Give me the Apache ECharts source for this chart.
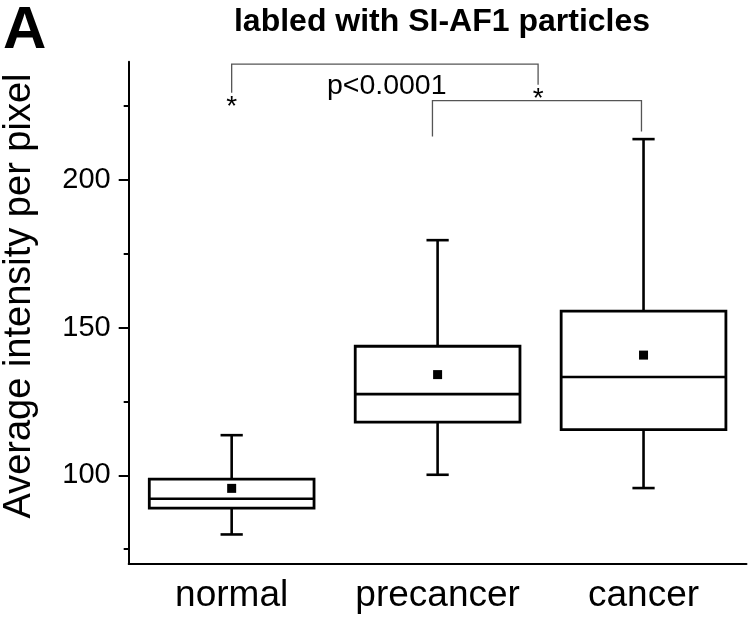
<!DOCTYPE html>
<html>
<head>
<meta charset="utf-8">
<script src="https://cdn.jsdelivr.net/npm/echarts@6/dist/echarts.min.js"></script>
<style>html,body{margin:0;padding:0;background:#fff;}#c{width:750px;height:619px;}</style>
</head>
<body>
<div id="c"></div>
<script>
const categories = ['normal', 'precancer', 'cancer'];
const whiskerLow = [80.0, 100.2, 95.7];
const q1 = [88.9, 118.0, 115.5];
const median = [92.1, 127.5, 133.3];
const q3 = [98.7, 143.7, 155.6];
const whiskerHigh = [113.6, 179.6, 213.8];
const means = [95.6, 134.1, 140.7];
const yMajorTicks = [100, 150, 200];
const yMinorTicks = [75, 125, 175, 225];
// brackets: [leftPos, rightPos, topValue, leftEndValue, rightEndValue]
const bracketLeft = [0, 0.975];
const bracketRight = [1.488, 1.99];
const bracketTop = [239.2, 226.8];
const bracketLeftEnd = [229.5, 214.7];
const bracketRightEnd = [232.2, 216.4];
// annotations
const noteTexts = ['*', '*', 'p<0.0001'];
const notePos = [0, 1.488, 0.753];
const noteValue = [226.6, 229.3, 231.6];

const FONT = 'Liberation Sans, Arial, sans-serif';
const chart = echarts.init(document.getElementById('c'), null, {renderer: 'canvas'});

function renderBox(params, api) {
  const i = api.value(0);
  const band = api.size([1, 0])[0];
  const half = band * 0.4;
  const cap = band * 0.054;
  const x = api.coord([i, 0])[0];
  const yLow = api.coord([i, api.value(1)])[1];
  const yQ1 = api.coord([i, api.value(2)])[1];
  const yMed = api.coord([i, api.value(3)])[1];
  const yQ3 = api.coord([i, api.value(4)])[1];
  const yHigh = api.coord([i, api.value(5)])[1];
  const yMean = api.coord([i, api.value(6)])[1];
  const ls = {stroke: '#000', lineWidth: 2.6, fill: null};
  return {
    type: 'group',
    children: [
      {type: 'line', shape: {x1: x, y1: yQ3, x2: x, y2: yHigh}, style: ls},
      {type: 'line', shape: {x1: x, y1: yQ1, x2: x, y2: yLow}, style: ls},
      {type: 'line', shape: {x1: x - cap, y1: yHigh, x2: x + cap, y2: yHigh}, style: ls},
      {type: 'line', shape: {x1: x - cap, y1: yLow, x2: x + cap, y2: yLow}, style: ls},
      {type: 'rect', shape: {x: x - half, y: yQ3, width: 2 * half, height: yQ1 - yQ3}, style: {stroke: '#000', lineWidth: 2.8, fill: '#fff'}},
      {type: 'line', shape: {x1: x - half, y1: yMed, x2: x + half, y2: yMed}, style: ls},
      {type: 'rect', shape: {x: x - 4.5, y: yMean - 4.5, width: 9, height: 9}, style: {fill: '#000'}}
    ]
  };
}

function renderBracket(params, api) {
  const k = params.dataIndex;
  const band = api.size([1, 0])[0];
  const x0 = api.coord([0, 100])[0];
  const xl = x0 + bracketLeft[k] * band;
  const xr = x0 + bracketRight[k] * band;
  const yt = api.coord([0, bracketTop[k]])[1];
  const yl = api.coord([0, bracketLeftEnd[k]])[1];
  const yr = api.coord([0, bracketRightEnd[k]])[1];
  return {
    type: 'polyline',
    shape: {points: [[xl, yl], [xl, yt], [xr, yt], [xr, yr]]},
    style: {stroke: '#555', lineWidth: 1.3, fill: null}
  };
}

function renderNote(params, api) {
  const k = params.dataIndex;
  const band = api.size([1, 0])[0];
  const x0 = api.coord([0, 100])[0];
  const x = x0 + notePos[k] * band;
  const y = api.coord([0, noteValue[k]])[1];
  const isStar = noteTexts[k] === '*';
  return {
    type: 'text',
    x: x,
    y: isStar ? y + 6 : y,
    style: {
      text: noteTexts[k],
      fill: '#000',
      font: (isStar ? '28px ' : '28.5px ') + FONT,
      textAlign: 'center',
      textVerticalAlign: 'middle'
    }
  };
}

const yBase = {
  type: 'value', min: 70, max: 240, position: 'left',
  splitLine: {show: false}
};

chart.setOption({
  animation: false,
  backgroundColor: '#fff',
  grid: {left: 128.7, right: 3.5, top: 61.7, bottom: 55, containLabel: false},
  xAxis: {
    type: 'category', data: categories, boundaryGap: true,
    axisLine: {lineStyle: {color: '#000', width: 2}},
    axisTick: {alignWithLabel: true, length: 9, lineStyle: {color: '#000', width: 2}},
    axisLabel: {color: '#000', fontSize: 37, fontFamily: FONT, margin: 13, interval: 0, hideOverlap: false},
    splitLine: {show: false}
  },
  yAxis: [
    Object.assign({}, yBase, {
      axisLine: {show: true, lineStyle: {color: '#000', width: 2}},
      axisTick: {show: true, length: 10, customValues: yMajorTicks, lineStyle: {color: '#000', width: 2}},
      axisLabel: {color: '#000', fontSize: 29, fontFamily: FONT, margin: 18, customValues: yMajorTicks}
    }),
    Object.assign({}, yBase, {
      axisLine: {show: false},
      axisTick: {show: true, length: 5, customValues: yMinorTicks, lineStyle: {color: '#000', width: 2}},
      axisLabel: {show: false}
    })
  ],
  graphic: [
    {type: 'text', left: 3, top: 1, style: {text: 'A', fill: '#000', font: 'bold 60px ' + FONT}},
    {type: 'text', x: 442, y: 22, style: {text: 'labled with SI-AF1 particles', fill: '#000', font: 'bold 32px ' + FONT, textAlign: 'center', textVerticalAlign: 'middle'}},
    {type: 'text', x: 20, y: 296, rotation: Math.PI / 2, style: {text: 'Average intensity per pixel', fill: '#000', font: '38px ' + FONT, textAlign: 'center', textVerticalAlign: 'middle'}}
  ],
  series: [
    {
      type: 'custom', renderItem: renderBox, xAxisIndex: 0, yAxisIndex: 0,
      encode: {x: 0, y: [1, 2, 3, 4, 5, 6]},
      data: categories.map((c, i) => [i, whiskerLow[i], q1[i], median[i], q3[i], whiskerHigh[i], means[i]]),
      silent: true, clip: false
    },
    {
      type: 'custom', renderItem: renderBracket, xAxisIndex: 0, yAxisIndex: 0,
      data: bracketTop.map((v, k) => [0, v]), silent: true, clip: false
    },
    {
      type: 'custom', renderItem: renderNote, xAxisIndex: 0, yAxisIndex: 0,
      data: noteValue.map((v, k) => [0, v]), silent: true, clip: false
    }
  ]
});
</script>
</body>
</html>
